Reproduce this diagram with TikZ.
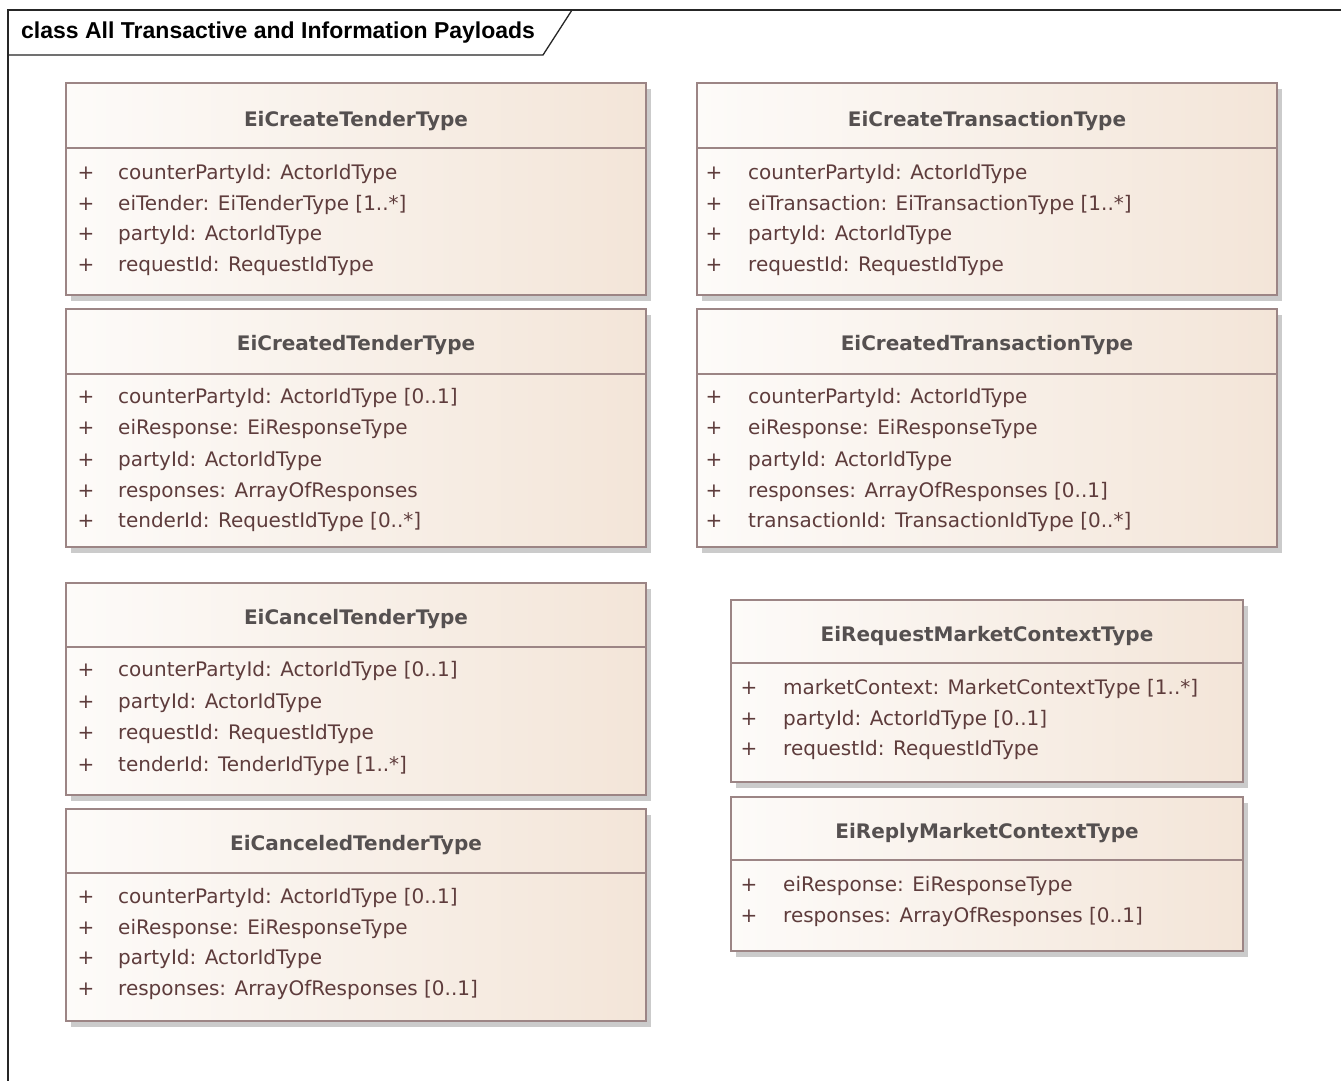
\documentclass[tikz,border=0pt]{standalone}
\usepackage{fontspec}
\setmainfont{DejaVu Sans}
\newfontfamily\framefont{Liberation Sans}
\definecolor{bordc}{HTML}{9C8585}
\definecolor{txtc}{HTML}{5E3C3C}
\definecolor{ttlc}{HTML}{555050}
\definecolor{shad}{HTML}{CBCBCB}
\definecolor{fillL}{HTML}{FDFBF9}
\definecolor{fillR}{HTML}{F3E5D8}
\tikzset{
  boxs/.style={draw=bordc,line width=1.6pt,left color=fillL,right color=fillR},
  divl/.style={draw=bordc,line width=1.2pt},
  shadowbox/.style={fill=shad},
  ttl/.style={text=ttlc,font=\fontsize{20}{24}\selectfont\bfseries,inner sep=0pt,text height=18.5pt,text depth=4pt},
  attr/.style={text=txtc,font=\fontsize{20}{24}\selectfont,inner sep=0pt,text height=18.5pt,text depth=4pt,anchor=west},
  plusn/.style={text=txtc,font=\fontsize{20}{24}\selectfont,inner sep=0pt,text height=18.5pt,text depth=4pt},
  framel/.style={draw=black!85,line width=1.3pt},
}
\newcommand\ubox[8]{%
  \fill[shadowbox] (#2+5,#3+6) rectangle (#4+5,#5+6);
  \draw[boxs] (#2,#3) rectangle (#4,#5);
  \draw[divl] (#2,#6) -- (#4,#6);
  \node[ttl] (#1) at ({(#2+#4)/2},#8) {#7};
}
\newcommand\urow[5]{%
  \node[plusn] (#1p) at (#2,#4) {+};
  \node[attr] (#1) at (#3,#4) {#5};
}
\begin{document}
\begin{tikzpicture}[x=1pt,y=-1pt]
\useasboundingbox (0,0) rectangle (1341,1080);
\fill[white] (0,0) rectangle (1341,1080);
% frame
\draw[framel] (8,1090) -- (8,10) -- (1350,10);
\draw[framel] (8,55) -- (543,55) -- (572,10);
\node[anchor=west,inner sep=0pt,text height=16pt,text depth=4pt,font=\framefont\fontsize{23}{26}\selectfont\bfseries] (frametitle) at (21,32) {class All Transactive and Information Payloads};

% Box 1
\ubox{b1}{66}{83}{646}{295}{148}{EiCreateTenderType}{119}
\urow{b1r1}{86}{118}{172}{counterPartyId: ActorIdType}
\urow{b1r2}{86}{118}{203}{eiTender: EiTenderType [1..*]}
\urow{b1r3}{86}{118}{233}{partyId: ActorIdType}
\urow{b1r4}{86}{118}{264}{requestId: RequestIdType}

% Box 2
\ubox{b2}{66}{309}{646}{547}{374}{EiCreatedTenderType}{343}
\urow{b2r1}{86}{118}{396}{counterPartyId: ActorIdType [0..1]}
\urow{b2r2}{86}{118}{427}{eiResponse: EiResponseType}
\urow{b2r3}{86}{118}{459}{partyId: ActorIdType}
\urow{b2r4}{86}{118}{490}{responses: ArrayOfResponses}
\urow{b2r5}{86}{118}{520}{tenderId: RequestIdType [0..*]}

% Box 3
\ubox{b3}{66}{583}{646}{795}{647}{EiCancelTenderType}{617}
\urow{b3r1}{86}{118}{669}{counterPartyId: ActorIdType [0..1]}
\urow{b3r2}{86}{118}{701}{partyId: ActorIdType}
\urow{b3r3}{86}{118}{732}{requestId: RequestIdType}
\urow{b3r4}{86}{118}{764}{tenderId: TenderIdType [1..*]}

% Box 4
\ubox{b4}{66}{809}{646}{1021}{873}{EiCanceledTenderType}{843}
\urow{b4r1}{86}{118}{896}{counterPartyId: ActorIdType [0..1]}
\urow{b4r2}{86}{118}{927}{eiResponse: EiResponseType}
\urow{b4r3}{86}{118}{957}{partyId: ActorIdType}
\urow{b4r4}{86}{118}{988}{responses: ArrayOfResponses [0..1]}

% Box 5
\ubox{b5}{697}{83}{1277}{295}{148}{EiCreateTransactionType}{119}
\urow{b5r1}{714}{748}{172}{counterPartyId: ActorIdType}
\urow{b5r2}{714}{748}{203}{eiTransaction: EiTransactionType [1..*]}
\urow{b5r3}{714}{748}{233}{partyId: ActorIdType}
\urow{b5r4}{714}{748}{264}{requestId: RequestIdType}

% Box 6
\ubox{b6}{697}{309}{1277}{547}{374}{EiCreatedTransactionType}{343}
\urow{b6r1}{714}{748}{396}{counterPartyId: ActorIdType}
\urow{b6r2}{714}{748}{427}{eiResponse: EiResponseType}
\urow{b6r3}{714}{748}{459}{partyId: ActorIdType}
\urow{b6r4}{714}{748}{490}{responses: ArrayOfResponses [0..1]}
\urow{b6r5}{714}{748}{520}{transactionId: TransactionIdType [0..*]}

% Box 7
\ubox{b7}{731}{600}{1243}{782}{663}{EiRequestMarketContextType}{634}
\urow{b7r1}{749}{783}{687}{marketContext: MarketContextType [1..*]}
\urow{b7r2}{749}{783}{718}{partyId: ActorIdType [0..1]}
\urow{b7r3}{749}{783}{748}{requestId: RequestIdType}

% Box 8
\ubox{b8}{731}{797}{1243}{951}{860}{EiReplyMarketContextType}{831}
\urow{b8r1}{749}{783}{884}{eiResponse: EiResponseType}
\urow{b8r2}{749}{783}{915}{responses: ArrayOfResponses [0..1]}
\end{tikzpicture}
\end{document}
